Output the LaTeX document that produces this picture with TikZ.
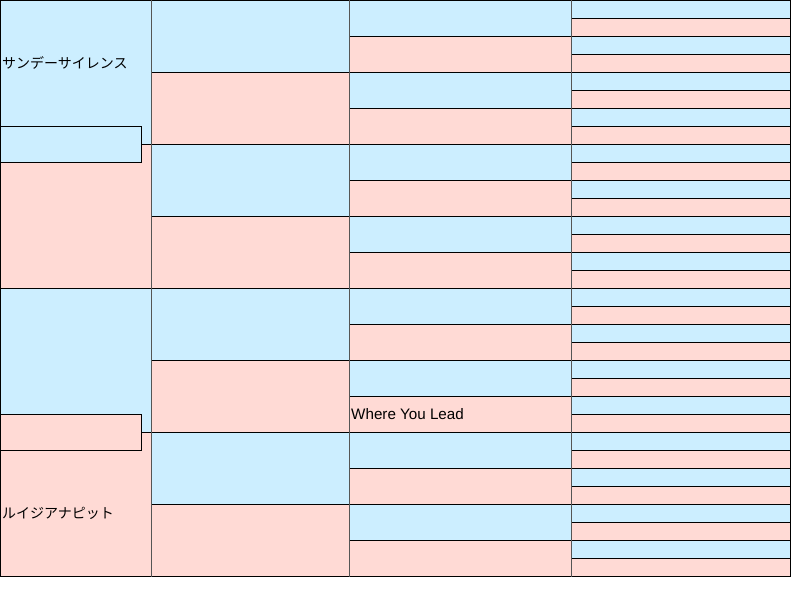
\documentclass[tikz,border=0pt]{standalone}
\usepackage{fontspec}
\setmainfont{Liberation Sans}
\newfontfamily\jpfont{Noto Sans CJK JP}
\definecolor{cblue}{RGB}{204,238,255}
\definecolor{cpink}{RGB}{255,218,213}
\definecolor{vline}{RGB}{85,85,85}
\begin{document}
\begin{tikzpicture}[x=1pt,y=-1pt,
  cellline/.style={draw=black,line width=0.9pt},
  colline/.style={draw=vline,line width=1pt},
  pname/.style={anchor=west,inner sep=0pt,font=\fontsize{15.2}{17}\selectfont},
  jpname/.style={anchor=west,inner sep=0pt,font=\jpfont\fontsize{14}{16}\selectfont}]
\useasboundingbox (0,0) rectangle (794,590);
% column 4: 32 rows of 18
\foreach \i in {0,...,31}{
  \ifodd\i \def\cc{cpink}\else\def\cc{cblue}\fi
  \filldraw[fill=\cc,cellline] (571,\i*18) rectangle (790,\i*18+18);
}
% column 3: 16 rows of 36
\foreach \i in {0,...,15}{
  \ifodd\i \def\cc{cpink}\else\def\cc{cblue}\fi
  \filldraw[fill=\cc,cellline] (349,\i*36) rectangle (571,\i*36+36);
}
% column 2: 8 rows of 72
\foreach \i in {0,...,7}{
  \ifodd\i \def\cc{cpink}\else\def\cc{cblue}\fi
  \filldraw[fill=\cc,cellline] (151,\i*72) rectangle (349,\i*72+72);
}
% column 1
\filldraw[fill=cblue,cellline] (0,0) rectangle (151,144);
\filldraw[fill=cpink,cellline] (0,144) rectangle (151,288);
\filldraw[fill=cblue,cellline] (0,288) rectangle (151,432);
\filldraw[fill=cpink,cellline] (0,432) rectangle (151,576);
% small overlay boxes
\filldraw[fill=cblue,cellline] (0,126) rectangle (141,162);
\filldraw[fill=cpink,cellline] (0,414) rectangle (141,450);
% column separators
\foreach \xx in {151,349,571}{
  \draw[colline] (\xx,0) -- (\xx,577);
}
% texts
\node[jpname] (sire) at (2,63) {サンデーサイレンス};
\node[jpname] (dam) at (2,513) {ルイジアナピット};
\node[pname] (wyl) at (351,414) {Where You Lead};
\end{tikzpicture}
\end{document}
